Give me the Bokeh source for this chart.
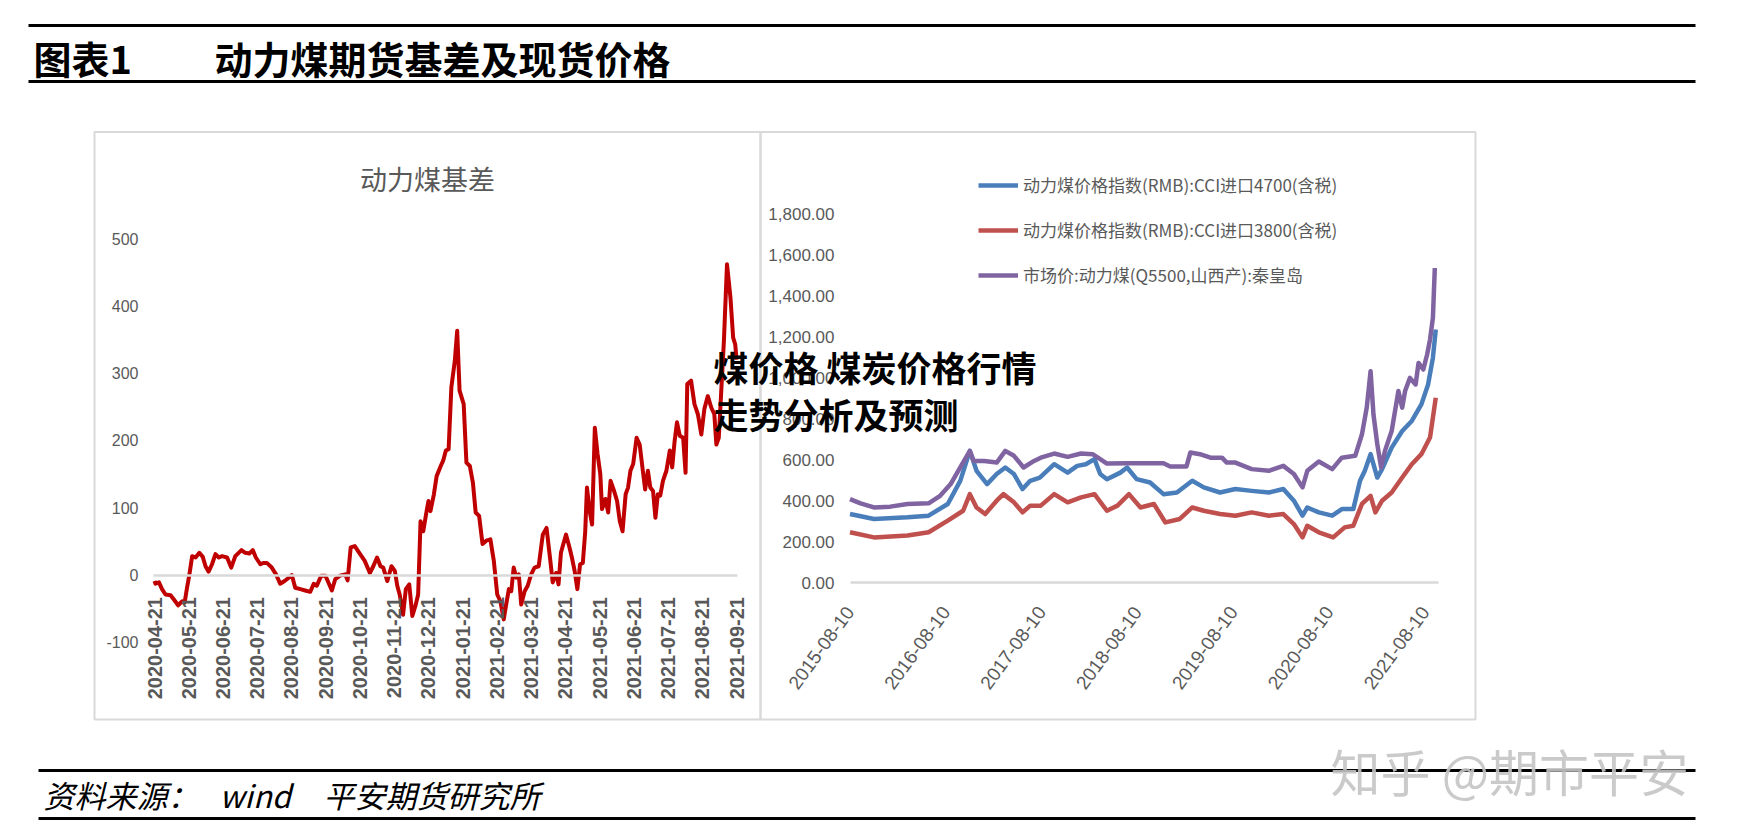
import math
from bokeh.plotting import figure
from bokeh.models import (Range1d, LinearAxis, FixedTicker, NumeralTickFormatter,
                          Legend, LegendItem)
from bokeh.core.properties import value
from bokeh.embed import file_html
from bokeh.resources import INLINE

# ------------------------------------------------------------------ data
# Left chart: 动力煤基差 (x = months after 2020-04-21)
basis_month = [0.00, 0.03, 0.13, 0.22, 0.32, 0.47, 0.56, 0.69, 0.81, 0.88, 0.95, 1.02, 1.10, 1.20,
               1.31, 1.41, 1.49, 1.58, 1.68, 1.78, 1.88, 1.97, 2.12, 2.24, 2.36, 2.54, 2.65, 2.77,
               2.87, 2.96, 3.09, 3.19, 3.28, 3.41, 3.55, 3.67, 3.80, 3.92, 4.01, 4.11, 4.26, 4.40,
               4.55, 4.65, 4.74, 4.87, 4.99, 5.06, 5.18, 5.28, 5.42, 5.57, 5.64, 5.73, 5.85, 5.98,
               6.14, 6.29, 6.39, 6.50, 6.60, 6.68, 6.80, 6.92, 7.02, 7.09, 7.16, 7.26, 7.34, 7.44,
               7.53, 7.63, 7.70, 7.77, 7.85, 7.93, 8.00, 8.06, 8.16, 8.24, 8.36, 8.43, 8.51, 8.59,
               8.67, 8.77, 8.84, 8.91, 9.03, 9.11, 9.21, 9.30, 9.38, 9.48, 9.58, 9.69, 9.81, 9.91,
               10.01, 10.10, 10.20, 10.27, 10.35, 10.42, 10.49, 10.57, 10.64, 10.71, 10.81, 10.90,
               11.00, 11.10, 11.22, 11.34, 11.45, 11.55, 11.63, 11.73, 11.80, 11.87, 11.94, 12.02,
               12.12, 12.19, 12.27, 12.35, 12.43, 12.51, 12.58, 12.63, 12.71, 12.78, 12.86, 12.94,
               13.02, 13.07, 13.17, 13.25, 13.32, 13.41, 13.51, 13.59, 13.67, 13.76, 13.83, 13.90,
               13.98, 14.08, 14.17, 14.25, 14.33, 14.41, 14.48, 14.56, 14.63, 14.70, 14.77, 14.85,
               14.95, 15.05, 15.12, 15.19, 15.26, 15.34, 15.44, 15.51, 15.56, 15.67, 15.77, 15.87,
               15.97, 16.06, 16.16, 16.26, 16.35, 16.41, 16.48, 16.55, 16.63, 16.72, 16.82, 16.90,
               16.96, 17.00]
basis_value = [-9, -13, -11, -21, -29, -30, -36, -45, -39, -41, -19, 1, 28, 26,
               33, 27, 13, 5, 16, 31, 26, 28, 26, 11, 28, 37, 33, 32,
               37, 26, 16, 18, 18, 12, 1, -13, -9, -4, 0, -19, -21, -23,
               -25, -13, -16, -1, -1, -9, -23, -6, -1, 1, -8, 41, 43, 33,
               21, 3, 13, 26, 13, 11, -9, 13, 6, -16, -29, -59, -21, -14,
               -61, -44, -29, 80, 65, 90, 110, 95, 120, 147, 162, 170, 185, 187,
               279, 318, 363, 274, 254, 167, 162, 137, 93, 88, 46, 51, 53, 21,
               -29, -39, -66, -44, -21, -24, 11, -4, 1, -44, -24, -16,
               1, 11, 13, 60, 70, 26, -11, 3, -14, 33, 46, 60,
               41, 26, 6, -21, 16, 18, 65, 130, 95, 75, 219, 180,
               150, 98, 113, 93, 140, 127, 110, 80, 65, 120, 130, 155,
               165, 204, 194, 160, 127, 155, 130, 125, 85, 120, 118, 140,
               155, 185, 160, 199, 227, 207, 204, 152, 284, 289, 254, 239,
               209, 247, 266, 249, 239, 194, 204, 271, 348, 462, 413, 353,
               343, 320]
basis_tick_labels = ["2020-04-21", "2020-05-21", "2020-06-21", "2020-07-21", "2020-08-21",
                     "2020-09-21", "2020-10-21", "2020-11-21", "2020-12-21", "2021-01-21",
                     "2021-02-21", "2021-03-21", "2021-04-21", "2021-05-21", "2021-06-21",
                     "2021-07-21", "2021-08-21", "2021-09-21"]
basis_yticks = [-100, 0, 100, 200, 300, 400, 500]
basis_ytick_labels = ["-100", "0", "100", "200", "300", "400", "500"]

# Right chart: prices (x = years after 2015-08-10)
cci4700_year = [0.00, 0.25, 0.60, 0.82, 1.02, 1.15, 1.25, 1.32, 1.43, 1.53, 1.62, 1.71, 1.80, 1.88,
                1.98, 2.13, 2.27, 2.37, 2.46, 2.55, 2.61, 2.68, 2.82, 2.89, 2.99, 3.13, 3.27, 3.41,
                3.57, 3.69, 3.86, 4.02, 4.19, 4.37, 4.52, 4.63, 4.72, 4.77, 4.89, 5.03, 5.13, 5.25,
                5.32, 5.37, 5.43, 5.50, 5.55, 5.65, 5.76, 5.86, 5.96, 6.03, 6.08, 6.11]
cci4700_value = [334, 310, 318, 326, 383, 496, 642, 545, 480, 529, 561, 529, 456, 496,
                 512, 577, 536, 569, 577, 602, 529, 504, 536, 561, 504, 488, 431, 439,
                 496, 464, 439, 456, 447, 439, 456, 399, 326, 366, 342, 326, 358, 358,
                 496, 545, 626, 512, 553, 658, 739, 788, 869, 966, 1096, 1234]
cci3800_year = [0.00, 0.25, 0.60, 0.82, 1.02, 1.18, 1.25, 1.32, 1.41, 1.53, 1.60, 1.71, 1.80, 1.88,
                1.99, 2.13, 2.27, 2.41, 2.55, 2.68, 2.79, 2.91, 3.03, 3.17, 3.29, 3.44, 3.57, 3.69,
                3.86, 4.02, 4.19, 4.37, 4.52, 4.63, 4.72, 4.77, 4.89, 5.04, 5.16, 5.25, 5.34, 5.43,
                5.48, 5.55, 5.65, 5.76, 5.86, 5.96, 6.05, 6.11]
cci3800_value = [245, 220, 229, 245, 302, 350, 431, 366, 334, 399, 431, 391, 342, 375,
                 375, 431, 391, 415, 431, 350, 375, 431, 366, 383, 293, 310, 366, 350,
                 334, 326, 342, 326, 334, 285, 220, 277, 245, 220, 269, 277, 383, 423,
                 342, 399, 439, 512, 577, 626, 707, 901]
qhd5500_year = [0.00, 0.11, 0.25, 0.42, 0.60, 0.82, 0.94, 1.05, 1.15, 1.25, 1.29, 1.40, 1.53, 1.62,
                1.71, 1.81, 1.92, 1.99, 2.13, 2.27, 2.41, 2.53, 2.61, 2.68, 2.89, 3.10, 3.27, 3.34,
                3.51, 3.55, 3.65, 3.76, 3.88, 3.93, 4.02, 4.19, 4.37, 4.52, 4.63, 4.72, 4.77, 4.89,
                5.03, 5.13, 5.27, 5.34, 5.39, 5.43, 5.46, 5.50, 5.54, 5.58, 5.65, 5.72, 5.76, 5.79,
                5.84, 5.90, 5.93, 5.98, 6.02, 6.05, 6.08, 6.10]
qhd5500_value = [407, 386, 366, 370, 383, 386, 423, 480, 561, 642, 593, 593, 585, 642,
                 618, 561, 593, 609, 629, 613, 629, 626, 602, 580, 582, 582, 582, 566,
                 566, 634, 626, 609, 609, 585, 585, 553, 545, 569, 529, 464, 545, 590,
                 553, 609, 618, 723, 853, 1031, 820, 675, 561, 642, 739, 934, 853, 934,
                 998, 966, 1071, 1039, 1112, 1185, 1290, 1534]
price_tick_labels = ["2015-08-10", "2016-08-10", "2017-08-10", "2018-08-10", "2019-08-10",
                     "2020-08-10", "2021-08-10"]
price_yticks = [0, 200, 400, 600, 800, 1000, 1200, 1400, 1600, 1800]
series_names = ["动力煤价格指数(RMB):CCI进口4700(含税)",
                "动力煤价格指数(RMB):CCI进口3800(含税)",
                "市场价:动力煤(Q5500,山西产):秦皇岛"]

# ------------------------------------------------------------------ layout (reference pixels)
W, H = 1740, 832
PX0, PY0 = 0, 0                      # figure sits at the page origin
L_X0, L_DX = 154.0, 34.24            # left chart: px of first tick, px per month
L_Y0, L_DY = 574.5, 0.6726           # left chart: px of zero, px per unit
R_X0, R_DX = 849.5, 95.87            # right chart: px of first tick, px per year
R_Y0, R_DY = 582.0, 0.2050           # right chart: px of zero, px per unit

GRAY = "#595959"
CJK = "Noto Sans CJK SC"

p = figure(width=W, height=H, output_backend="svg", toolbar_location=None,
           x_range=Range1d(PX0, PX0 + W), y_range=Range1d(PY0 + H, PY0),
           x_axis_type=None, y_axis_type=None, min_border=0,
           background_fill_color="white", border_fill_color="white",
           outline_line_color=None)
p.extra_x_ranges = {
    "lx": Range1d((PX0 - L_X0) / L_DX, (PX0 + W - L_X0) / L_DX),
    "rx": Range1d((PX0 - R_X0) / R_DX, (PX0 + W - R_X0) / R_DX),
}
p.extra_y_ranges = {
    "ly": Range1d((L_Y0 - (PY0 + H)) / L_DY, (L_Y0 - PY0) / L_DY),
    "ry": Range1d((R_Y0 - (PY0 + H)) / R_DY, (R_Y0 - PY0) / R_DY),
}

# ---- page decorations
p.segment(x0=[28, 28, 38, 38], y0=[25, 81, 770, 818], x1=[1695] * 4, y1=[25, 81, 770, 818],
          line_color="black", line_width=3)
p.quad(left=[94, 760], right=[760, 1475], top=[131.5, 131.5], bottom=[719, 719],
       fill_color=None, line_color="#d9d9d9", line_width=2, level="underlay")
p.text(x=[33], y=[57], text=["图表1"], text_font=value(CJK), text_font_size="38px",
       text_font_style="bold", text_color="black", text_baseline="middle")
p.text(x=[214], y=[57], text=["动力煤期货基差及现货价格"], text_font=value(CJK),
       text_font_size="38px", text_font_style="bold", text_color="black", text_baseline="middle")
p.text(x=[43, 219, 323], y=[794, 794, 794], text=["资料来源：", "wind", "平安期货研究所"],
       text_font=value(CJK), text_font_size="31px", text_font_style="italic",
       text_color="black", text_baseline="middle")

# ---- left chart
p.text(x=[427], y=[178], text=["动力煤基差"], text_font=value(CJK), text_font_size="27px",
       text_color=GRAY, text_align="center", text_baseline="middle")
p.line(basis_month, basis_value, x_range_name="lx", y_range_name="ly",
       line_color="#c00000", line_width=4, line_join="round")

ly_axis = LinearAxis(y_range_name="ly", fixed_location=150,
                     ticker=FixedTicker(ticks=basis_yticks),
                     major_label_overrides=dict(zip(basis_yticks, basis_ytick_labels)),
                     axis_line_color=None, major_tick_line_color=None, minor_tick_line_color=None,
                     major_label_standoff=6, major_label_text_font="Liberation Sans",
                     major_label_text_font_size="16px", major_label_text_color=GRAY)
p.add_layout(ly_axis, "left")
lx_axis = LinearAxis(x_range_name="lx", y_range_name="ly", fixed_location=0,
                     bounds=(-0.03, 17.03),
                     ticker=FixedTicker(ticks=list(range(len(basis_tick_labels)))),
                     major_label_overrides={i: s for i, s in enumerate(basis_tick_labels)},
                     major_label_orientation=math.pi / 2,
                     axis_line_color="#d9d9d9", axis_line_width=2.5,
                     major_tick_line_color=None, minor_tick_line_color=None,
                     major_label_standoff=16, major_label_text_font="Liberation Sans",
                     major_label_text_font_style="bold",
                     major_label_text_font_size="20px", major_label_text_color=GRAY)
p.add_layout(lx_axis, "below")

# ---- right chart
r1 = p.line(cci4700_year, cci4700_value, x_range_name="rx", y_range_name="ry",
            line_color="#4a7ebb", line_width=4.5, line_join="round")
r2 = p.line(cci3800_year, cci3800_value, x_range_name="rx", y_range_name="ry",
            line_color="#c0504d", line_width=4.5, line_join="round")
r3 = p.line(qhd5500_year, qhd5500_value, x_range_name="rx", y_range_name="ry",
            line_color="#8064a2", line_width=4.5, line_join="round")

ry_axis = LinearAxis(y_range_name="ry", fixed_location=847,
                     ticker=FixedTicker(ticks=price_yticks),
                     formatter=NumeralTickFormatter(format="0,0.00"),
                     axis_line_color=None, major_tick_line_color=None, minor_tick_line_color=None,
                     major_label_standoff=7, major_label_text_font="Liberation Sans",
                     major_label_text_font_size="17px", major_label_text_color=GRAY)
p.add_layout(ry_axis, "left")
rx_axis = LinearAxis(x_range_name="rx", y_range_name="ry", fixed_location=0,
                     bounds=(0, 6.14),
                     ticker=FixedTicker(ticks=list(range(len(price_tick_labels)))),
                     major_label_overrides={i: s for i, s in enumerate(price_tick_labels)},
                     major_label_orientation=0.94,
                     axis_line_color="#d9d9d9", axis_line_width=2.5,
                     major_tick_line_color=None, minor_tick_line_color=None,
                     major_label_standoff=20, major_label_text_font="Liberation Sans",
                     major_label_text_font_size="19px", major_label_text_color=GRAY)
p.add_layout(rx_axis, "below")

legend = Legend(items=[LegendItem(label=series_names[0], renderers=[r1]),
                       LegendItem(label=series_names[1], renderers=[r2]),
                       LegendItem(label=series_names[2], renderers=[r3])],
                location=(978, H - 287), orientation="vertical", padding=0, margin=0,
                spacing=20, glyph_width=40, glyph_height=24, label_height=24,
                label_standoff=5, label_text_font=CJK, label_text_font_size="17px",
                label_text_color=GRAY, background_fill_alpha=0, border_line_color=None)
p.add_layout(legend)

# ---- overlays
p.text(x=[713, 713], y=[366, 413], text=["煤价格 煤炭价格行情", "走势分析及预测"],
       text_font=value(CJK), text_font_size="35px", text_font_style="bold",
       text_color="black", text_baseline="middle", level="overlay")
p.text(x=[1330], y=[769], text=["知乎 @期市平安"], text_font=value(CJK),
       text_font_size="50px", text_color="#c4c4c4", text_alpha=0.9,
       text_baseline="middle", level="overlay")

open("out.html", "w").write(file_html(p, INLINE))
